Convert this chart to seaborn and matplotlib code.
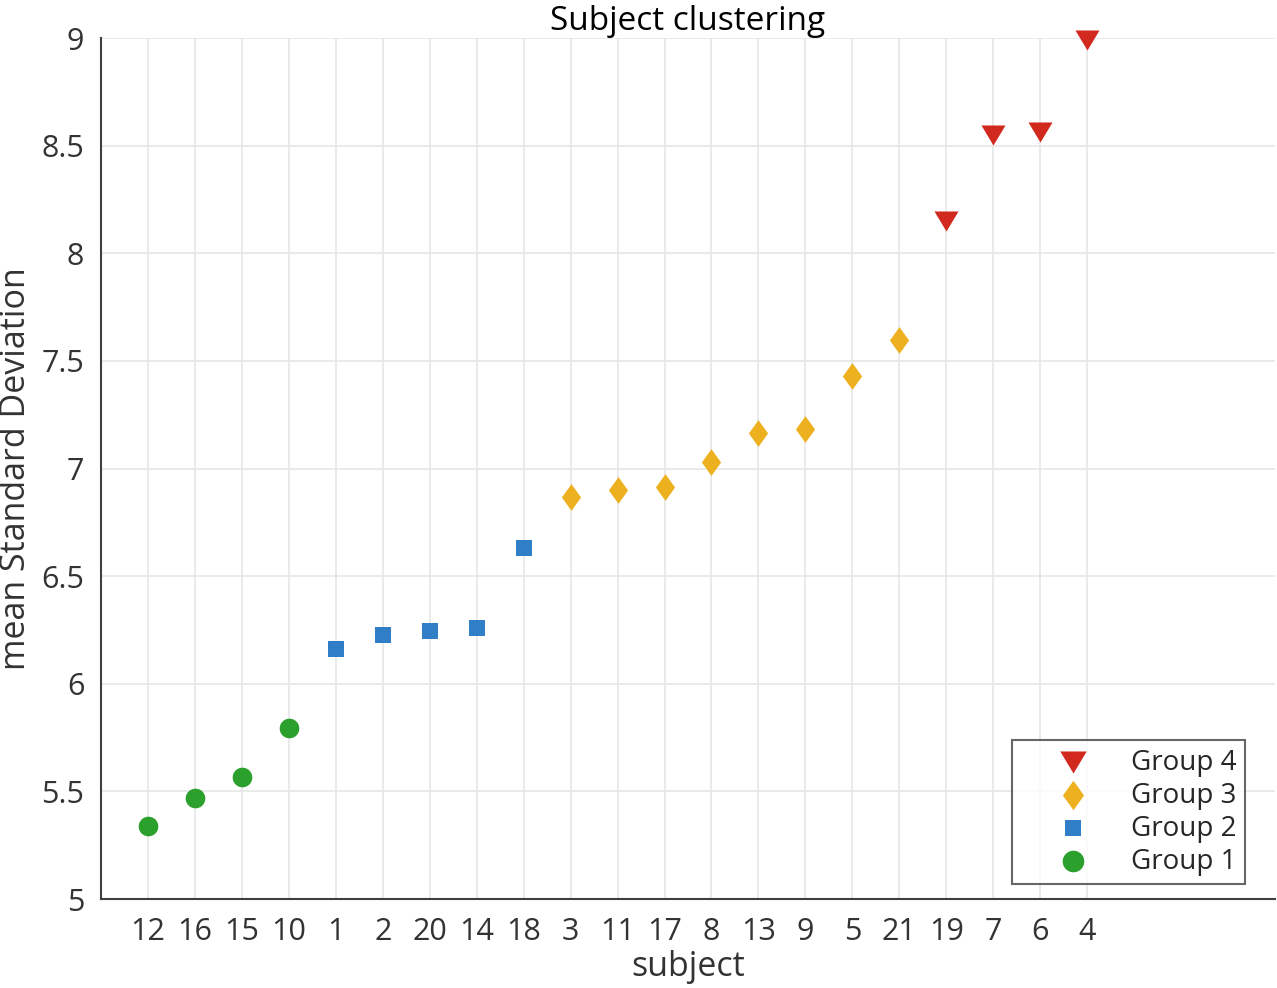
import matplotlib
matplotlib.use("Agg")
import matplotlib.pyplot as plt
import numpy as np
import pandas as pd
import seaborn as sns

# subjects sorted by their mean standard deviation
subjects = ["12", "16", "15", "10", "1", "2", "20", "14", "18", "3", "11",
            "17", "8", "13", "9", "5", "21", "19", "7", "6", "4"]
mean_std = [5.34, 5.47, 5.567, 5.794, 6.16, 6.227, 6.245, 6.26, 6.63, 6.868, 6.90,
            6.914, 7.03, 7.165, 7.183, 7.43, 7.597, 8.15, 8.55, 8.563, 8.99]
groups = ["Group 1"] * 4 + ["Group 2"] * 5 + ["Group 3"] * 8 + ["Group 4"] * 4

group_names = ["Group 4", "Group 3", "Group 2", "Group 1"]
colors = {"Group 1": "#2ca02c", "Group 2": "#2f7ec6", "Group 3": "#edb120", "Group 4": "#d2291f"}
# matlab-ish diamond and wide down-triangle
diamond = [(0, -1), (0.72, 0), (0, 1), (-0.72, 0)]
tri_down = [(-1.2, 1), (1.2, 1), (0, -1)]
markers = {"Group 1": "o", "Group 2": "s", "Group 3": diamond, "Group 4": tri_down}
sizes = {"Group 1": 200, "Group 2": 120, "Group 3": 370, "Group 4": 300}

df = pd.DataFrame({"pos": np.arange(1, len(subjects) + 1), "value": mean_std, "group": groups})

sns.set_style("white")
plt.rcParams["font.family"] = ["Open Sans", "DejaVu Sans"]

fig = plt.figure(figsize=(12.77, 9.88), dpi=100)
ax = fig.add_axes([101 / 1277, 89 / 988, 1174 / 1277, 861 / 988])

for g in ["Group 1", "Group 2", "Group 3", "Group 4"]:
    sub = df[df["group"] == g]
    sns.scatterplot(data=sub, x="pos", y="value", color=colors[g], marker=markers[g],
                    s=sizes[g], linewidth=0, label=g, ax=ax, clip_on=False, zorder=3)

ax.set_xlim(0, 25)
ax.set_ylim(5, 9)
ax.set_xticks(df["pos"])
ax.set_xticklabels(subjects)
ax.set_yticks([5, 5.5, 6, 6.5, 7, 7.5, 8, 8.5, 9])
ax.set_yticklabels(["5", "5.5", "6", "6.5", "7", "7.5", "8", "8.5", "9"])
ax.grid(True, color="#e6e6e6", linewidth=1.2)
ax.set_axisbelow(True)

for side in ["top", "right"]:
    ax.spines[side].set_visible(False)
for side in ["left", "bottom"]:
    ax.spines[side].set_color("#404040")
    ax.spines[side].set_linewidth(1.5)

ax.tick_params(direction="in", length=9, width=1.5, color="#404040",
               labelcolor="#333333", labelsize=22, pad=13)
ax.tick_params(axis="y", pad=12)

ax.set_xlabel("subject", fontsize=24.5, color="#333333", labelpad=2)
ax.set_ylabel("mean Standard Deviation", fontsize=24.5, color="#333333", labelpad=6)
ax.set_title("Subject clustering", fontsize=24, color="black", pad=6)

handles, labels = ax.get_legend_handles_labels()
order = [labels.index(g) for g in group_names]
leg = ax.legend([handles[i] for i in order], group_names, loc="lower right",
                fontsize=20, frameon=True, fancybox=False, edgecolor="#404040",
                handletextpad=0.2, borderpad=0.3, labelspacing=0.18, markerfirst=True,
                handlelength=3.8, markerscale=1.1, borderaxespad=0)
leg.get_frame().set_linewidth(1.5)
leg.set_bbox_to_anchor((1245 / 1277, 104 / 988), transform=fig.transFigure)

fig.savefig("out.png", dpi=100)
